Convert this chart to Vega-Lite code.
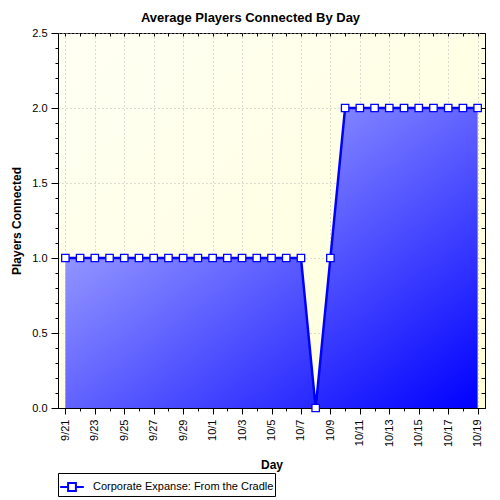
{
  "$schema": "https://vega.github.io/schema/vega-lite/v6.json",
  "width": 427,
  "height": 375,
  "autosize": "none",
  "padding": {"left": 58, "top": 33, "right": 15, "bottom": 92},
  "background": "white",
  "title": {
    "text": "Average Players Connected By Day",
    "font": "Liberation Sans",
    "fontSize": 13,
    "fontWeight": "bold",
    "color": "black",
    "anchor": "middle",
    "offset": 2,
    "dx": -21
  },
  "data": {
    "values": [
      {"day": "9/21", "players": 1, "series": "Corporate Expanse: From the Cradle"},
      {"day": "9/22", "players": 1, "series": "Corporate Expanse: From the Cradle"},
      {"day": "9/23", "players": 1, "series": "Corporate Expanse: From the Cradle"},
      {"day": "9/24", "players": 1, "series": "Corporate Expanse: From the Cradle"},
      {"day": "9/25", "players": 1, "series": "Corporate Expanse: From the Cradle"},
      {"day": "9/26", "players": 1, "series": "Corporate Expanse: From the Cradle"},
      {"day": "9/27", "players": 1, "series": "Corporate Expanse: From the Cradle"},
      {"day": "9/28", "players": 1, "series": "Corporate Expanse: From the Cradle"},
      {"day": "9/29", "players": 1, "series": "Corporate Expanse: From the Cradle"},
      {"day": "9/30", "players": 1, "series": "Corporate Expanse: From the Cradle"},
      {"day": "10/1", "players": 1, "series": "Corporate Expanse: From the Cradle"},
      {"day": "10/2", "players": 1, "series": "Corporate Expanse: From the Cradle"},
      {"day": "10/3", "players": 1, "series": "Corporate Expanse: From the Cradle"},
      {"day": "10/4", "players": 1, "series": "Corporate Expanse: From the Cradle"},
      {"day": "10/5", "players": 1, "series": "Corporate Expanse: From the Cradle"},
      {"day": "10/6", "players": 1, "series": "Corporate Expanse: From the Cradle"},
      {"day": "10/7", "players": 1, "series": "Corporate Expanse: From the Cradle"},
      {"day": "10/8", "players": 0, "series": "Corporate Expanse: From the Cradle"},
      {"day": "10/9", "players": 1, "series": "Corporate Expanse: From the Cradle"},
      {"day": "10/10", "players": 2, "series": "Corporate Expanse: From the Cradle"},
      {"day": "10/11", "players": 2, "series": "Corporate Expanse: From the Cradle"},
      {"day": "10/12", "players": 2, "series": "Corporate Expanse: From the Cradle"},
      {"day": "10/13", "players": 2, "series": "Corporate Expanse: From the Cradle"},
      {"day": "10/14", "players": 2, "series": "Corporate Expanse: From the Cradle"},
      {"day": "10/15", "players": 2, "series": "Corporate Expanse: From the Cradle"},
      {"day": "10/16", "players": 2, "series": "Corporate Expanse: From the Cradle"},
      {"day": "10/17", "players": 2, "series": "Corporate Expanse: From the Cradle"},
      {"day": "10/18", "players": 2, "series": "Corporate Expanse: From the Cradle"},
      {"day": "10/19", "players": 2, "series": "Corporate Expanse: From the Cradle"}
    ]
  },
  "layer": [
    {
      "mark": {
        "type": "area",
        "color": {
          "gradient": "linear",
          "x1": 0, "y1": 0, "x2": 1, "y2": 1,
          "stops": [
            {"offset": 0, "color": "#C2C6FF"},
            {"offset": 1, "color": "#0000FF"}
          ]
        }
      },
      "encoding": {
        "x": {
          "field": "day",
          "type": "ordinal",
          "sort": null,
          "scale": {"type": "point", "padding": 0.5},
          "axis": {
            "orient": "bottom",
            "title": "Day",
            "titleY": 56,
            "titleBaseline": "middle",
            "labelAngle": 270,
            "labelPadding": 5,
            "labelExpr": "indexof(['9/21','9/23','9/25','9/27','9/29','10/1','10/3','10/5','10/7','10/9','10/11','10/13','10/15','10/17','10/19'], datum.value) >= 0 ? datum.label : ''",
            "tickSize": {"condition": {"test": "indexof(['9/21','9/23','9/25','9/27','9/29','10/1','10/3','10/5','10/7','10/9','10/11','10/13','10/15','10/17','10/19'], datum.value) >= 0", "value": 6}, "value": 3},
            "grid": true,
            "gridOpacity": {"condition": {"test": "indexof(['9/21','9/23','9/25','9/27','9/29','10/1','10/3','10/5','10/7','10/9','10/11','10/13','10/15','10/17','10/19'], datum.value) >= 0", "value": 1}, "value": 0}
          }
        },
        "y": {
          "field": "players",
          "type": "quantitative",
          "scale": {"domain": [0, 2.5], "nice": false},
          "axis": {
            "orient": "left",
            "title": "Players Connected",
            "titleX": -42,
            "titleY": 187.5,
            "titleAlign": "center",
            "titleBaseline": "middle",
            "values": [0, 0.1, 0.2, 0.3, 0.4, 0.5, 0.6, 0.7, 0.8, 0.9, 1, 1.1, 1.2, 1.3, 1.4, 1.5, 1.6, 1.7, 1.8, 1.9, 2, 2.1, 2.2, 2.3, 2.4, 2.5],
            "labelExpr": "abs(datum.value * 2 - round(datum.value * 2)) < 0.000001 ? format(datum.value, '.1f') : ''",
            "labelPadding": 4,
            "tickSize": {"condition": {"test": "abs(datum.value * 2 - round(datum.value * 2)) < 0.000001", "value": 7}, "value": 3},
            "grid": true,
            "gridOpacity": {"condition": {"test": "abs(datum.value * 2 - round(datum.value * 2)) < 0.000001", "value": 1}, "value": 0}
          }
        }
      }
    },
    {
      "mark": {"type": "line", "color": "#0000FF", "strokeWidth": 2.5},
      "encoding": {
        "x": {
          "field": "day",
          "type": "ordinal",
          "sort": null,
          "axis": {"orient": "top", "title": null, "labels": false, "domain": false, "grid": false, "tickSize": -3}
        },
        "y": {
          "field": "players",
          "type": "quantitative",
          "axis": {
            "orient": "right",
            "title": null,
            "labels": false,
            "domain": false,
            "grid": false,
            "tickSize": -4,
            "values": [0, 0.1, 0.2, 0.3, 0.4, 0.5, 0.6, 0.7, 0.8, 0.9, 1, 1.1, 1.2, 1.3, 1.4, 1.5, 1.6, 1.7, 1.8, 1.9, 2, 2.1, 2.2, 2.3, 2.4, 2.5]
          }
        }
      }
    },
    {
      "mark": {"type": "point", "shape": "square", "size": 55, "filled": false, "fill": "white", "fillOpacity": 1, "strokeWidth": 1.3, "opacity": 1},
      "encoding": {
        "x": {"field": "day", "type": "ordinal", "sort": null, "axis": null},
        "y": {"field": "players", "type": "quantitative", "axis": null},
        "stroke": {
          "field": "series",
          "type": "nominal",
          "scale": {"range": ["#0000FF"]},
          "legend": {
            "orient": "none",
            "legendX": 0,
            "legendY": 440,
            "title": null,
            "padding": 1,
            "strokeColor": "black",
            "cornerRadius": 0,
            "symbolType": "M-1,0H-0.33M0.33,0H1M-0.33,-0.33H0.33V0.33H-0.33Z",
            "symbolSize": 560,
            "symbolFillColor": "white",
            "symbolStrokeColor": "#0000FF",
            "symbolStrokeWidth": 2,
            "symbolOpacity": 1,
            "labelFont": "Liberation Sans",
            "labelFontSize": 11,
            "labelColor": "black",
            "labelOffset": 8,
            "labelLimit": 400
          }
        }
      }
    }
  ],
  "resolve": {"axis": {"x": "independent", "y": "independent"}},
  "config": {
    "view": {
      "stroke": "black",
      "strokeWidth": 1,
      "fill": {
        "gradient": "linear",
        "x1": 0, "y1": 0, "x2": 1, "y2": 1,
        "stops": [
          {"offset": 0, "color": "#FFFFF4"},
          {"offset": 1, "color": "#FFFFD8"}
        ]
      }
    },
    "axis": {
      "labelFont": "Liberation Sans",
      "labelFontSize": 11,
      "labelColor": "black",
      "titleFont": "Liberation Sans",
      "titleFontSize": 12,
      "titleFontWeight": "bold",
      "titleColor": "black",
      "domainColor": "black",
      "tickColor": "black",
      "gridColor": "#b8b8b8",
      "gridDash": [1, 3]
    }
  }
}
